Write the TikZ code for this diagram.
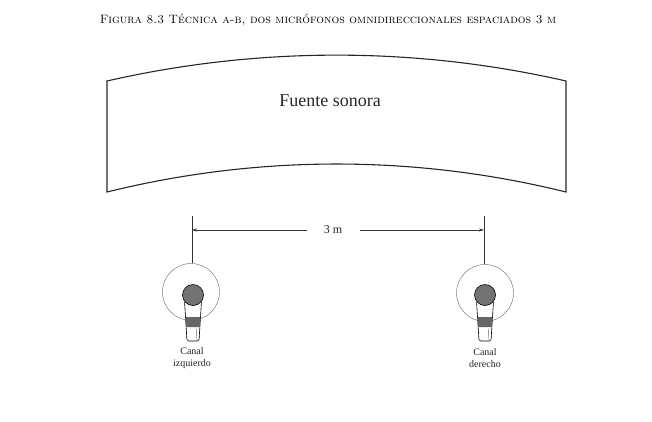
\documentclass[tikz,border=0pt]{standalone}
\usepackage{fontspec}
\newfontfamily\timesf{Liberation Serif}
\usetikzlibrary{arrows.meta}
\tikzset{
  srcline/.style={line width=1.1pt, black!85},
  guide/.style={line width=0.5pt, black!80},
  dimarrow/.style={line width=0.5pt, black!80, -{Stealth[length=5pt,width=3pt]}},
  pattern circle/.style={circle, draw=black!55, line width=0.45pt, minimum size=57pt, inner sep=0pt},
  lbl/.style={font=\timesf\fontsize{10}{11.5}\selectfont, align=center, text=black!85},
  mic/.pic={
    \draw[line width=0.6pt, fill=white, rounded corners=1.5pt] (-8.5,6) -- (-6,46) -- (6,46) -- (8.5,6) -- cycle;
    \fill[black!60] (-7.47,22) -- (-6.83,32) -- (6.83,32) -- (7.47,22) -- cycle;
    \draw[line width=0.4pt, black!60] (3.5,33) -- (3.2,45);
    \draw[line width=0.6pt, fill=black!55] (0,0) circle (10.5pt);
  }
}
\begin{document}
\begin{tikzpicture}[x=1pt, y=-1pt]
\useasboundingbox (0,0) rectangle (652,421);
% caption
\node[font=\fontsize{12.15}{14}\selectfont, text=black] (cap) at (328,20) {\textsc{Figura 8.3 Técnica a-b, dos micrófonos omnidireccionales espaciados 3 m}};
% sound source
\draw[srcline] (107,81) .. controls (258,46.5) and (415,46.5) .. (566,81)
  -- (566,192) .. controls (415,154.7) and (258,154.7) .. (107,192) -- cycle;
\node[font=\timesf\fontsize{18}{20}\selectfont, text=black!85] (src) at (330,101) {Fuente sonora};
% microphones
\node[pattern circle] (cl) at (191,292) {};
\node[pattern circle] (cr) at (485,293) {};
\pic at (193,295) {mic};
\pic at (485,295) {mic};
\coordinate (lt) at (192,216);
\coordinate (rt) at (484,216);
\draw[guide] (lt) -- (192,263);
\draw[guide] (rt) -- (484,264);
% dimension
\coordinate (la) at (192,230);
\coordinate (ra) at (484,230);
\node[font=\timesf\fontsize{12}{14}\selectfont, text=black!85] (dim) at (333,230) {3 m};
\draw[dimarrow] (307,230) -- (la);
\draw[dimarrow] (360,230) -- (ra);
% labels
\node[lbl] (ll) at (192,358) {Canal\\izquierdo};
\node[lbl] (lr) at (485,358) {Canal\\derecho};
\end{tikzpicture}
\end{document}
